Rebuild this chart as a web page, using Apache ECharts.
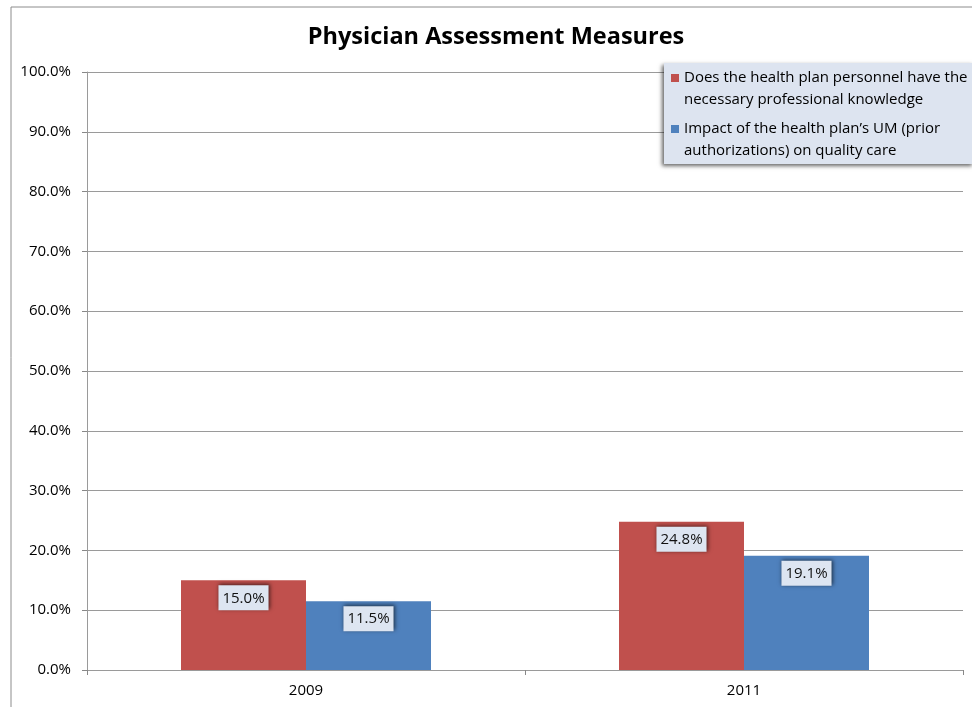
<!DOCTYPE html>
<html>
<head>
<meta charset="utf-8">
<script src="https://cdn.jsdelivr.net/npm/echarts@6/dist/echarts.min.js"></script>
<style>
    html, body { margin: 0; padding: 0; background: #fff; }
    #chart { width: 972px; height: 707px; }
</style>
</head>
<body>
<div id="chart"></div>
<script>
// 数据
var years = ["2009", "2011"];
var knowledge_data = [15.0, 24.8];
var um_data = [11.5, 19.1];
var series_names = [
    "Does the health plan personnel have the\nnecessary professional knowledge",
    "Impact of the health plan\u2019s UM (prior\nauthorizations) on quality care"
];

var font = "'Open Sans', 'Noto Sans', sans-serif";

var my_chart = echarts.init(document.getElementById("chart"));

// 数据标签样式
var label_style = {
    show: true,
    position: "insideTop",
    distance: 5,
    formatter: function (p) { return p.value.toFixed(1) + "%"; },
    color: "#111",
    fontFamily: font,
    fontSize: 15,
    lineHeight: 18,
    backgroundColor: "#dde5f1",
    padding: [4, 4, 3, 4],
    shadowColor: "rgba(0,0,0,0.6)",
    shadowBlur: 4,
    shadowOffsetX: 1,
    shadowOffsetY: -1
};

// 图例图标：方块位于上方，使其与第一行文字对齐
var legend_icon = "path://M0,0h8v8h-8z M0,29.99h0.01v0.01h-0.01z";

var option = {
    animation: false,
    title: {
        text: "Physician Assessment Measures",
        left: 491,
        textAlign: "center",
        top: 20,
        textStyle: {
            fontFamily: font,
            fontSize: 23.5,
            fontWeight: "bold",
            color: "#000"
        }
    },
    // 外框
    graphic: [{
        type: "rect",
        shape: { x: 11, y: 7, width: 1000, height: 800 },
        style: { fill: "none", stroke: "#8c8c8c", lineWidth: 1 },
        silent: true
    }],
    legend: {
        orient: "vertical",
        left: 664,
        top: 63,
        padding: [4, 6, 2, 7],
        itemGap: 7,
        itemWidth: 8,
        itemHeight: 30,
        icon: legend_icon,
        backgroundColor: "#dde4f0",
        shadowColor: "rgba(0,0,0,0.6)",
        shadowBlur: 4,
        shadowOffsetX: -2,
        shadowOffsetY: 2,
        textStyle: {
            fontFamily: font,
            fontSize: 15,
            lineHeight: 22,
            color: "#000"
        },
        data: series_names
    },
    grid: {
        left: 87,
        right: 9,
        top: 72,
        bottom: 37
    },
    xAxis: {
        type: "category",
        data: years,
        axisLine: { lineStyle: { color: "#9a9a9a", width: 1 } },
        axisTick: { show: true, length: 5, lineStyle: { color: "#888" } },
        axisLabel: { fontFamily: font, fontSize: 15, color: "#000", margin: 13 }
    },
    yAxis: {
        type: "value",
        min: 0,
        max: 100,
        interval: 10,
        axisLine: { show: true, lineStyle: { color: "#9a9a9a", width: 1 } },
        axisTick: { show: true, length: 5, lineStyle: { color: "#888" } },
        splitLine: { lineStyle: { color: "#9a9a9a", width: 1 } },
        axisLabel: {
            fontFamily: font,
            fontSize: 15,
            color: "#000",
            margin: 16,
            formatter: function (v) { return v.toFixed(1) + "%"; }
        }
    },
    series: [
        {
            name: series_names[0],
            type: "bar",
            data: knowledge_data,
            barWidth: 125,
            barGap: "0%",
            itemStyle: { color: "#c0504d" },
            label: label_style
        },
        {
            name: series_names[1],
            type: "bar",
            data: um_data,
            barWidth: 125,
            barGap: "0%",
            itemStyle: { color: "#4f81bd" },
            label: label_style
        }
    ]
};

my_chart.setOption(option);
</script>
</body>
</html>
